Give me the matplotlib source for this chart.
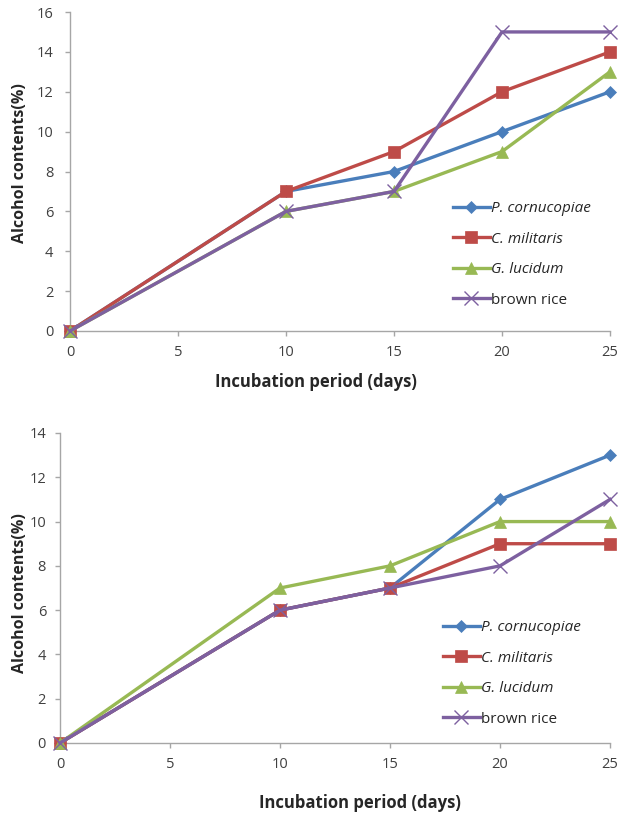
import matplotlib
matplotlib.use("Agg")
import matplotlib.pyplot as plt

days = [0, 10, 15, 20, 25]
series_names = ["P. cornucopiae", "C. militaris", "G. lucidum", "brown rice"]

top_pc = [0, 7, 8, 10, 12]
top_cm = [0, 7, 9, 12, 14]
top_gl = [0, 6, 7, 9, 13]
top_br = [0, 6, 7, 15, 15]

bot_pc = [0, 6, 7, 11, 13]
bot_cm = [0, 6, 7, 9, 9]
bot_gl = [0, 7, 8, 10, 10]
bot_br = [0, 6, 7, 8, 11]

xticks = [0, 5, 10, 15, 20, 25]
top_yticks = [0, 2, 4, 6, 8, 10, 12, 14, 16]
bot_yticks = [0, 2, 4, 6, 8, 10, 12, 14]

colors = ["#4A7EBB", "#BE4B48", "#98B954", "#7D60A0"]
markers = ["D", "s", "^", "x"]
msizes = [6.5, 8, 8.5, 10]
italic = [True, True, True, False]

plt.rcParams['font.family'] = ['Open Sans', 'DejaVu Sans']

W, H = 621, 816
fig = plt.figure(figsize=(W / 100, H / 100), dpi=100)
ax1 = fig.add_axes([70 / W, 1 - 331 / H, 540 / W, 319 / H])
ax2 = fig.add_axes([60 / W, 1 - 743 / H, 550 / W, 310 / H])

def draw(ax, data, yticks, ymax, ypad, leg_xy, xlab_xy, ylab_xy):
    for vals, c, m, ms, name in zip(data, colors, markers, msizes, series_names):
        ax.plot(days, vals, color=c, marker=m, markersize=ms, linewidth=2.4,
                markeredgewidth=1.0 if m == "x" else 0.5, markeredgecolor=c,
                label=name, clip_on=False, zorder=3)
    ax.set_xlim(0, 25)
    ax.set_ylim(0, ymax)
    ax.set_xticks(xticks)
    ax.set_yticks(yticks)
    for s in ["top", "right"]:
        ax.spines[s].set_visible(False)
    for s in ["left", "bottom"]:
        ax.spines[s].set_color("#A6A6A6")
        ax.spines[s].set_linewidth(1.0)
    ax.tick_params(axis="both", colors="#A6A6A6", labelcolor="#404040",
                   labelsize=10.5, length=3.5, width=1)
    ax.tick_params(axis="x", pad=6.5)
    ax.tick_params(axis="y", pad=ypad)
    xl = ax.set_xlabel("Incubation period (days)", fontsize=12, fontweight="bold",
                       color="#262626")
    xl.set_va("center")
    ax.xaxis.set_label_coords(*xlab_xy)
    yl = ax.set_ylabel("Alcohol contents(%)", fontsize=11.5, fontweight="bold",
                       color="#262626")
    yl.set_va("center")
    yl.set_ha("center")
    ax.yaxis.set_label_coords(*ylab_xy)
    leg = ax.legend(loc="upper left", bbox_to_anchor=(leg_xy[0] / W, 1 - leg_xy[1] / H),
                    bbox_transform=fig.transFigure, frameon=False,
                    fontsize=11, handlelength=2.4, handletextpad=0.1,
                    labelspacing=1.02, borderaxespad=0, borderpad=0)
    for t, it in zip(leg.get_texts(), italic):
        t.set_color("#262626")
        if it:
            t.set_fontstyle("italic")

draw(ax1, [top_pc, top_cm, top_gl, top_br], top_yticks, 16, 8.5,
     (453, 201), ((316 - 70) / 540, (331 - 382) / 319), ((20 - 70) / 540, (331 - 163) / 319))
draw(ax2, [bot_pc, bot_cm, bot_gl, bot_br], bot_yticks, 14, 6.5,
     (443, 620), ((360 - 60) / 550, (743 - 803) / 310), ((20.5 - 60) / 550, (743 - 593) / 310))

fig.savefig("out.png", dpi=100)
